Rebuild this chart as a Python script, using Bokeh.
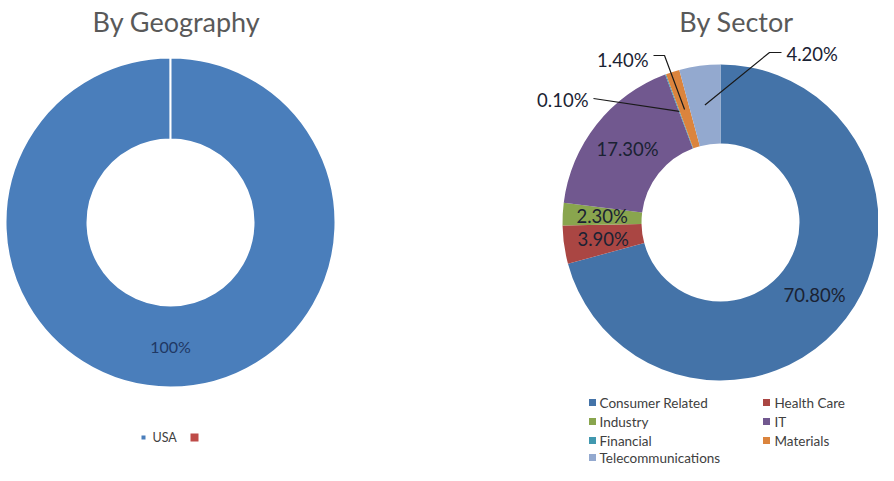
import numpy as np
from bokeh.plotting import figure
from bokeh.models import Range1d
from bokeh.embed import file_html
from bokeh.resources import INLINE
from bokeh.core.properties import value

# ---------------- data ----------------
geo_title = "By Geography"
geo_names = ["USA", ""]
geo_values = [100.0, 0.0]
geo_colors = ["#4A7EBB", "#BE4B48"]

sector_title = "By Sector"
sector_names = ["Consumer Related", "Health Care", "Industry", "IT",
                "Financial", "Materials", "Telecommunications"]
sector_values = [70.8, 3.9, 2.3, 17.3, 0.1, 1.4, 4.2]
sector_colors = ["#4473A8", "#AA4643", "#89A54E", "#71588F",
                 "#4198AF", "#DB843D", "#93A9CF"]

# ---------------- layout ----------------
W, H = 878, 465
FONT = "Lato"
LABEL_COLOR = "#1a2233"


def px(sx, sy):
    """picture pixel -> plot coordinate (1 unit = 1 px)"""
    return sx, H - sy


p = figure(width=W, height=H, x_range=Range1d(0, W), y_range=Range1d(0, H),
           output_backend="svg", toolbar_location=None, min_border=0)
p.axis.visible = False
p.grid.visible = False
p.outline_line_color = None
p.background_fill_color = "white"
p.border_fill_color = "white"


def angles(vals):
    v = np.asarray(vals, float)
    fr = v / v.sum()
    cum = np.concatenate([[0.0], np.cumsum(fr)])
    start = np.pi / 2 - 2 * np.pi * cum[:-1]
    end = np.pi / 2 - 2 * np.pi * cum[1:]
    mid = (start + end) / 2
    return fr, start, end, mid


def donut(center, r_in, r_out, vals, colors, line_color, line_width):
    cx, cy = center
    fr, st, en, mid = angles(vals)
    keep = fr > 0
    en_draw = np.where(st - en >= 2 * np.pi - 1e-9, st - 2 * np.pi + 1e-3, en)
    n = int(keep.sum())
    p.annular_wedge(x=[cx] * n, y=[cy] * n,
                    inner_radius=r_in, outer_radius=r_out,
                    start_angle=list(st[keep]), end_angle=list(en_draw[keep]),
                    direction="clock",
                    fill_color=[c for c, k in zip(colors, keep) if k],
                    line_color=line_color, line_width=line_width)
    rm = (r_in + r_out) / 2
    return fr, mid, rm


def title(text, sx, sy):
    x, y = px(sx, sy)
    p.text(x=[x], y=[y], text=[text], text_font=value(FONT),
           text_font_size="27px", text_color="#595959",
           text_align="center", text_baseline="middle")


# ---------- By Geography ----------
title(geo_title, 176, 21)
gcx, gcy = px(170, 222)
fr, mid, rm = donut((gcx, gcy), 83, 165, geo_values, geo_colors, "white", 2)
for v, m in zip(geo_values, mid):
    if v > 0:
        p.text(x=[gcx + rm * np.cos(m)], y=[gcy + rm * np.sin(m)],
               text=[f"{v:g}%"], text_font=value(FONT), text_font_size="16px",
               text_color="#1F3864", text_align="center", text_baseline="middle")

# geography legend
geo_leg_sq = [(143, 437, 4), (194, 437, 8)]
for (sx, sy, size), name, col in zip(geo_leg_sq, geo_names, geo_colors):
    x, y = px(sx, sy)
    p.scatter(x=[x], y=[y], marker="square", size=size, fill_color=col,
              line_color=None)
    if name:
        p.text(x=[x + 9], y=[y], text=[name], text_font=value(FONT),
               text_font_size="12.5px", text_color="#404040",
               text_align="left", text_baseline="middle")

# ---------- By Sector ----------
title(sector_title, 736, 21)
scx, scy = px(720, 222)
fr, mid, rm = donut((scx, scy), 79, 158, sector_values, sector_colors, None, 0)

# external labels for the small slices: text anchor, alignment, leader path
external = {
    4: ((588, 99), "right", [(593, 98)]),
    5: ((648, 59), "right", [(653, 55), (664, 55)]),
    6: ((786, 53), "left", [(781, 52), (769, 52)]),
}
for i, (v, m) in enumerate(zip(sector_values, mid)):
    lab = f"{v:.2f}%"
    mx, my = scx + rm * np.cos(m), scy + rm * np.sin(m)
    if i in external:
        (tsx, tsy), align, path = external[i]
        tx, ty = px(tsx, tsy)
        p.text(x=[tx], y=[ty], text=[lab], text_font=value(FONT),
               text_font_size="18.5px", text_color=LABEL_COLOR,
               text_align=align, text_baseline="middle")
        pts = [px(a, b) for a, b in path] + [(mx, my)]
        p.line(x=[q[0] for q in pts], y=[q[1] for q in pts],
               line_color="#1a1a1a", line_width=1.2)
    else:
        p.text(x=[mx], y=[my], text=[lab], text_font=value(FONT),
               text_font_size="18.5px", text_color=LABEL_COLOR,
               text_align="center", text_baseline="middle")

# sector legend: 2 columns, row-major order
leg_cols_sq = [592, 766]
leg_cols_tx = [599, 774]
leg_rows = [402, 421, 440, 457]
for i, (name, col) in enumerate(zip(sector_names, sector_colors)):
    c, r = i % 2, i // 2
    x, y = px(leg_cols_sq[c], leg_rows[r])
    p.scatter(x=[x], y=[y], marker="square", size=7, fill_color=col,
              line_color=None)
    tx, _ = px(leg_cols_tx[c], leg_rows[r])
    p.text(x=[tx], y=[y], text=[name], text_font=value(FONT),
           text_font_size="13.5px", text_color="#404040",
           text_align="left", text_baseline="middle")

open("out.html", "w").write(file_html(p, INLINE))
